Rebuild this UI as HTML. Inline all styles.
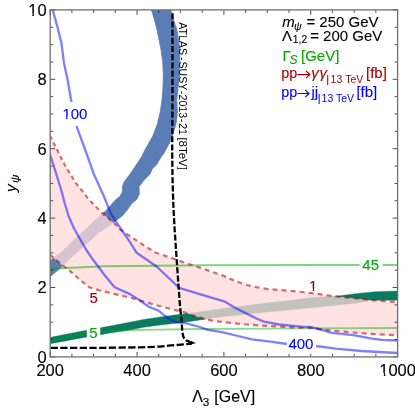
<!DOCTYPE html>
<html><head><meta charset="utf-8"><title>plot</title>
<style>
html,body{margin:0;padding:0;background:#fff;}
svg{display:block;will-change:transform;font-family:"Liberation Sans",sans-serif;}
text{stroke:currentColor;stroke-width:0.12px;}
</style></head><body>
<svg width="415" height="408" viewBox="0 0 415 408">
<rect width="415" height="408" fill="#fff"/>
<defs><clipPath id="c"><rect x="50.2" y="9.9" width="347.40000000000003" height="347.0"/></clipPath></defs>
<g clip-path="url(#c)">
<polygon points="151.3,9.6 154.1,18.4 157.2,30.6 159.6,42.9 161.1,50.0 162.7,62.3 163.3,74.5 163.0,86.8 162.0,100.0 160.2,112.3 157.2,124.5 152.8,136.0 144.9,150.0 141.2,157.4 135.3,166.2 129.4,175.0 124.3,181.6 122.4,186.8 122.4,191.9 119.9,196.3 114.7,200.7 106.9,209.8 97.0,218.6 85.3,229.4 73.5,240.2 61.8,252.0 50.0,260.8 50.0,276.8 53.9,273.5 59.8,268.5 69.6,258.8 79.4,250.0 89.2,241.2 99.0,232.4 110.8,224.5 122.5,215.7 127.2,210.0 131.6,203.7 136.8,199.3 139.4,194.1 139.0,186.8 144.1,180.1 150.0,174.3 152.2,169.1 156.6,164.7 160.0,158.8 164.0,153.1 170.8,140.5 173.7,131.9 176.4,122.0 177.4,112.3 176.8,100.0 178.2,86.8 179.5,74.5 179.8,62.0 179.8,50.0 178.6,40.4 176.8,29.4 174.3,22.0 172.1,14.7 170.6,9.6" fill="#5b7db5" stroke="#5b7db5" stroke-width="0.8" stroke-linejoin="round"/>
<polygon points="50.0,338.0 52.0,337.0 86.6,330.2 100.5,327.7 110.0,326.1 126.9,322.8 143.7,319.4 160.6,316.9 180.0,314.3 191.7,313.0 206.1,310.9 225.0,308.2 246.7,305.6 268.4,302.8 290.0,300.6 312.0,297.6 338.2,296.0 353.4,293.9 375.0,291.7 397.6,291.0 397.6,300.2 383.4,300.2 373.0,300.5 366.0,301.5 354.5,303.2 340.0,304.8 328.9,306.0 312.0,307.8 300.0,308.8 290.0,309.9 268.4,311.8 246.7,314.3 225.0,316.4 213.4,317.8 204.7,319.3 193.1,321.0 180.0,322.8 160.6,325.0 143.7,327.3 126.9,330.4 110.0,332.9 100.5,334.7 86.6,337.0 52.0,343.4 50.0,343.8" fill="#0a7b60" stroke="#0a7b60" stroke-width="0.4" stroke-linejoin="round"/>
<polygon points="50.0,135.8 55.7,147.0 64.5,164.5 75.2,182.2 83.5,192.5 89.2,200.0 102.9,213.7 116.7,225.5 120.0,229.4 131.8,237.3 143.5,245.1 155.3,252.5 171.0,257.8 184.7,262.7 200.0,267.6 208.0,270.4 223.0,275.6 235.8,281.2 246.7,285.0 257.5,287.4 268.4,289.1 290.0,290.8 310.0,292.8 320.8,294.3 331.7,296.0 342.5,297.1 353.4,298.2 375.0,300.4 397.6,302.2 397.6,335.2 375.0,334.2 353.4,332.5 331.7,330.7 312.0,328.0 290.0,327.3 268.4,326.0 246.7,324.5 225.0,322.3 213.4,321.0 204.7,318.8 194.6,316.0 184.5,312.3 172.9,309.5 158.5,305.8 145.0,302.0 130.0,297.5 114.7,294.1 99.0,290.2 89.2,287.3 79.4,279.4 69.6,270.6 61.8,264.7 50.0,254.9" fill="#ffdada" fill-opacity="0.755"/>
<path d="M50.0 340.7 L70.0 336.7 L86.6 333.6 L100.5 331.6 L115.0 330.5 L130.0 330.0 L145.0 329.9 L158.5 329.6 L200.0 329.0 L311.0 328.3 L397.6 328.0" fill="none" stroke="#00aa00" stroke-opacity="0.45" stroke-width="1.8"/>
<path d="M50.0 268.7 L104.0 266.2 L208.0 265.2 L311.0 264.9 L359.9 264.9 M382.4 264.9 L397.5 264.9" fill="none" stroke="#00aa00" stroke-opacity="0.5" stroke-width="2"/>
<path d="M50.00 135.80L51.89 139.51M53.44 142.56L55.33 146.27M56.87 149.32L58.74 153.04M60.27 156.08L62.14 159.80M63.67 162.85L64.50 164.50L65.71 166.51M67.50 169.47L69.68 173.08M71.47 176.03L73.65 179.64M75.50 182.57L78.22 185.94M80.44 188.70L83.15 192.07M85.30 194.87L87.90 198.30M90.21 201.01L93.34 204.14M95.90 206.70L99.03 209.83M101.59 212.39L102.90 213.70L104.89 215.40M107.70 217.80L111.12 220.73M113.92 223.12L116.70 225.50L117.23 226.12M119.53 228.84L120.00 229.40L123.20 231.54M126.34 233.65L130.18 236.22M133.33 238.32L137.18 240.88M140.33 242.99L143.50 245.10L144.19 245.53M147.42 247.56L151.36 250.03M154.59 252.05L155.30 252.50L159.08 253.77M162.85 255.05L167.46 256.61M171.24 257.89L175.81 259.52M179.55 260.86L184.12 262.49M187.91 263.73L192.56 265.22M196.36 266.44L200.00 267.60L201.00 267.95M204.75 269.26L208.00 270.40L209.34 270.86M213.10 272.17L217.69 273.76M221.45 275.06L223.00 275.60L225.91 276.87M229.51 278.45L233.90 280.37M237.57 281.82L242.16 283.42M245.92 284.73L246.70 285.00L250.70 285.89M254.65 286.77L257.50 287.40L259.50 287.71M263.53 288.34L268.40 289.10L268.44 289.10M272.52 289.42L277.49 289.82M281.57 290.14L286.55 290.53M290.63 290.86L295.59 291.36M299.66 291.77L304.62 292.26M308.69 292.67L310.00 292.80L313.62 293.30M317.66 293.86L320.80 294.30L322.58 294.58M326.61 295.21L331.52 295.97M335.58 296.40L340.54 296.90M344.61 297.31L349.57 297.81M353.64 298.22L358.60 298.73M362.67 299.14L367.63 299.65M371.69 300.06L375.00 300.40L376.66 300.53M380.74 300.86L385.71 301.25M389.79 301.58L394.77 301.97" fill="none" stroke="#aa0000" stroke-opacity="0.55" stroke-width="2.2" stroke-linejoin="round"/>
<path d="M50.00 254.90L53.47 257.78M56.32 260.15L59.79 263.03M62.68 265.37L66.32 268.12M69.30 270.37L69.60 270.60L72.66 273.35M75.39 275.80L78.72 278.79M81.57 281.15L85.10 283.99M87.99 286.32L89.20 287.30L92.28 288.21M96.13 289.35L99.00 290.20L100.85 290.66M104.77 291.63L109.54 292.82M113.46 293.79L114.70 294.10L118.27 294.89M122.22 295.77L127.03 296.84M130.96 297.79L135.64 299.19M139.48 300.34L144.16 301.75M148.03 302.85L152.74 304.18M156.61 305.27L158.50 305.80L161.36 306.53M165.26 307.54L170.02 308.76M173.93 309.75L178.72 310.91M182.65 311.85L184.50 312.30L187.29 313.32M191.02 314.69L194.60 316.00L195.60 316.28M199.48 317.35L204.20 318.66M208.11 319.66L212.88 320.87M216.92 321.39L221.87 321.95M225.93 322.39L230.89 322.90M234.96 323.31L239.92 323.81M243.99 324.23L246.70 324.50L248.96 324.66M253.04 324.94L258.02 325.28M262.11 325.57L267.09 325.91M271.18 326.17L276.16 326.47M280.25 326.71L285.24 327.01M289.33 327.26L290.00 327.30L294.32 327.44M298.42 327.57L303.42 327.73M307.51 327.86L312.00 328.00L312.50 328.07M316.54 328.62L321.47 329.30M325.51 329.85L330.44 330.53M334.51 330.93L339.48 331.35M343.56 331.68L348.53 332.10M352.61 332.43L353.40 332.50L357.59 332.83M361.67 333.15L366.64 333.54M370.72 333.86L375.00 334.20L375.70 334.23M379.80 334.41L384.79 334.63M388.88 334.81L393.87 335.04" fill="none" stroke="#aa0000" stroke-opacity="0.55" stroke-width="2.2" stroke-linejoin="round"/>
<path d="M52.6 9.5 L57.6 27.6 L61.4 42.6 L63.9 62.7 L67.7 80.2 L71.4 102.0 M76.4 125.8 L86.0 152.0 L94.0 174.5 L104.0 196.5 L110.8 213.7 L118.6 225.5 L130.0 242.2 L136.6 252.8 L156.6 266.5 L179.2 287.8 L208.0 296.7 L225.0 301.7 L235.8 308.2 L246.7 313.6 L257.5 319.0 L264.0 321.6 L279.2 324.5 L300.9 326.6 L310.0 326.9 L320.8 329.7 L331.7 332.9 L353.4 335.1 L370.7 338.3 L381.6 339.8 L397.6 340.5 M50.0 154.6 L53.0 163.5 L56.4 174.5 L61.8 192.0 L64.9 204.0 L68.7 216.5 L74.3 229.0 L86.3 250.0 L93.1 259.8 L104.9 275.5 L114.7 287.3 L130.0 294.1 L139.3 300.0 L148.9 306.7 L158.5 310.6 L168.2 318.3 L175.9 322.2 L185.5 323.1 L200.0 327.0 L208.0 329.8 L223.0 332.3 L238.0 336.0 L251.9 339.3 L270.7 341.6 L287.0 344.0 M316.0 346.0 L336.0 348.6 L361.0 351.0 L397.5 353.0" fill="none" stroke="#0000ff" stroke-opacity="0.5" stroke-width="2.3" stroke-linejoin="round"/>
<rect x="86.8" y="322" width="13.5" height="20" fill="#fff"/>
<path d="M172.50 13.20L172.50 19.29M172.50 21.40L172.50 27.49M172.50 29.60L172.50 35.69M172.50 37.80L172.50 43.88M172.50 46.00L172.50 52.08M172.50 54.20L172.50 60.28M172.50 62.40L172.50 68.48M172.50 70.60L172.50 76.68M172.50 78.80L172.50 84.88M172.50 87.00L172.50 93.08M172.50 95.19L172.50 101.28M172.49 103.39L172.46 109.48M172.44 111.59L172.41 117.68M172.39 119.79L172.36 125.88M172.34 127.99L172.31 134.08M172.29 136.19L172.26 142.28M172.25 144.39L172.21 150.48M172.21 152.59L172.28 158.68M172.31 160.79L172.38 166.88M172.40 168.99L172.48 175.07M172.51 177.19L172.69 183.27M172.75 185.38L172.93 191.47M172.99 193.58L173.17 199.67M173.23 201.78L173.30 204.00L173.50 207.86M173.61 209.97L173.93 216.05M174.04 218.16L174.35 224.24M174.46 226.35L174.60 229.00L174.83 232.43M174.98 234.54L175.39 240.62M175.53 242.73L175.95 248.80M176.09 250.91L176.30 254.00L176.50 256.99M176.65 259.10L177.06 265.18M177.20 267.29L177.62 273.36M177.76 275.47L178.00 279.00L178.19 281.55M178.34 283.66L178.79 289.73M178.95 291.84L179.40 297.91M179.56 300.02L180.00 306.00L180.01 306.10M180.23 308.20L180.88 314.26M181.11 316.37L181.60 321.00L181.69 322.43M181.83 324.54L182.22 330.62M182.48 332.72L183.50 337.30L184.44 338.48M185.84 340.23L185.90 340.30L189.50 341.90L192.41 342.61" fill="none" stroke="#000" stroke-width="2.3" stroke-linejoin="round"/>
<path d="M50.6 347.8 L104.0 347.8 L141.6 347.3 L160.0 346.6 L168.4 345.7 L178.0 344.9 L192.0 343.6" fill="none" stroke="#000" stroke-width="2.3" stroke-dasharray="7.3 2.4" stroke-linejoin="round"/>
<polygon points="188.3,340.4 196.2,343 188.3,345" fill="#000"/>
</g>
<path d="M50.20 356.9v-5M50.20 9.9v5M71.91 356.9v-3M71.91 9.9v3M93.62 356.9v-3M93.62 9.9v3M115.34 356.9v-3M115.34 9.9v3M137.05 356.9v-5M137.05 9.9v5M158.76 356.9v-3M158.76 9.9v3M180.48 356.9v-3M180.48 9.9v3M202.19 356.9v-3M202.19 9.9v3M223.90 356.9v-5M223.90 9.9v5M245.61 356.9v-3M245.61 9.9v3M267.33 356.9v-3M267.33 9.9v3M289.04 356.9v-3M289.04 9.9v3M310.75 356.9v-5M310.75 9.9v5M332.46 356.9v-3M332.46 9.9v3M354.18 356.9v-3M354.18 9.9v3M375.89 356.9v-3M375.89 9.9v3M397.60 356.9v-5M397.60 9.9v5M50.2 356.90h5M397.6 356.90h-5M50.2 339.55h3M397.6 339.55h-3M50.2 322.20h3M397.6 322.20h-3M50.2 304.85h3M397.6 304.85h-3M50.2 287.50h5M397.6 287.50h-5M50.2 270.15h3M397.6 270.15h-3M50.2 252.80h3M397.6 252.80h-3M50.2 235.45h3M397.6 235.45h-3M50.2 218.10h5M397.6 218.10h-5M50.2 200.75h3M397.6 200.75h-3M50.2 183.40h3M397.6 183.40h-3M50.2 166.05h3M397.6 166.05h-3M50.2 148.70h5M397.6 148.70h-5M50.2 131.35h3M397.6 131.35h-3M50.2 114.00h3M397.6 114.00h-3M50.2 96.65h3M397.6 96.65h-3M50.2 79.30h5M397.6 79.30h-5M50.2 61.95h3M397.6 61.95h-3M50.2 44.60h3M397.6 44.60h-3M50.2 27.25h3M397.6 27.25h-3M50.2 9.90h5M397.6 9.90h-5" stroke="#222" stroke-width="0.8" fill="none"/>
<rect x="50.2" y="9.9" width="347.40000000000003" height="347.0" fill="none" stroke="#707070" stroke-width="1.3"/>
<g font-size="16.5" fill="#000" color="#000"><text x="50.2" y="375.5" text-anchor="middle">200</text><text x="137.1" y="375.5" text-anchor="middle">400</text><text x="223.9" y="375.5" text-anchor="middle">600</text><text x="310.8" y="375.5" text-anchor="middle">800</text><text x="397.6" y="375.5" text-anchor="middle">1000</text><text x="46.6" y="362.7" text-anchor="end">0</text><text x="46.6" y="293.3" text-anchor="end">2</text><text x="46.6" y="223.9" text-anchor="end">4</text><text x="46.6" y="154.5" text-anchor="end">6</text><text x="46.6" y="85.1" text-anchor="end">8</text><text x="46.6" y="15.7" text-anchor="end">10</text></g>
<text transform="translate(179.3,0) rotate(90)" font-size="10.6" fill="#000" style="stroke:none"><tspan x="22.2">ATLAS</tspan><tspan x="57.1">-</tspan><tspan x="61.5">SUSY</tspan><tspan x="90.8">-</tspan><tspan x="94.5">2013</tspan><tspan x="118.8">-</tspan><tspan x="123.2">21</tspan><tspan x="137.4" textLength="32.6" lengthAdjust="spacingAndGlyphs">[8TeV]</tspan></text>
<g fill="#fff"><rect x="60.8" y="103.3" width="28.6" height="21.2"/><rect x="286.9" y="333" width="29.2" height="20.7"/><rect x="359.8" y="255" width="22.6" height="20.6"/></g>
<g font-size="15">
<text x="62.4" y="119.3" fill="#0000ff" color="#0000ff">100</text>
<text x="288.4" y="348.9" fill="#0000ff" color="#0000ff">400</text>
<text x="362.3" y="270.3" fill="#00aa00" color="#00aa00">45</text>
<text x="89.3" y="338.3" fill="#00aa00" color="#00aa00">5</text>
<text x="309" y="290.7" fill="#aa0000" color="#aa0000">1</text>
<text x="89.5" y="302.7" fill="#aa0000" color="#aa0000">5</text>
</g>
<g fill="#fff"><rect x="309.15" y="288.45" width="3.59" height="3.25"/><rect x="314.11" y="288.45" width="2.85" height="3.25"/><rect x="62.55" y="117.05" width="3.59" height="3.25"/><rect x="67.51" y="117.05" width="2.85" height="3.25"/><rect x="28.41" y="13.33" width="3.95" height="3.37"/><rect x="33.87" y="13.33" width="3.14" height="3.37"/><rect x="379.91" y="373.13" width="3.95" height="3.37"/><rect x="385.37" y="373.13" width="3.14" height="3.37"/></g>
<g font-size="15">
<text y="26.7" fill="#000" color="#000"><tspan x="282.3" font-style="italic">m</tspan><tspan x="294" y="29.6" font-style="italic" font-size="10.5">ψ</tspan><tspan x="306.4" y="26.7">= 250 GeV</tspan></text>
<text y="40.8" fill="#000" color="#000"><tspan x="282">Λ</tspan><tspan x="292.8" y="42.9" font-size="10.3">1,2</tspan><tspan x="310.2" y="40.8">= 200 GeV</tspan></text>
<text y="61.4" fill="#00aa00" color="#00aa00"><tspan x="282.5">Γ</tspan><tspan x="289.6" y="63.8" font-style="italic" font-size="12">S</tspan><tspan x="301" y="61.4">[GeV]</tspan></text>
<text y="78.2" fill="#aa0000" color="#aa0000"><tspan x="281.3" textLength="16" lengthAdjust="spacingAndGlyphs">pp</tspan><tspan x="311.3" font-style="italic" letter-spacing="0.8">γγ</tspan><tspan x="326.3" y="82.5" font-size="10.9">|</tspan><tspan x="330.6" y="82.5" font-size="10.5" style="stroke:none">13 TeV</tspan><tspan x="366" y="78.2">[fb]</tspan></text>
<path d="M297.4 74.6H309.4M306 71L309.8 74.6L306 78.2" fill="none" stroke="#aa0000" stroke-width="1.15"/>
<text y="97.1" fill="#0000ff" color="#0000ff"><tspan x="281.3" textLength="16" lengthAdjust="spacingAndGlyphs">pp</tspan><tspan x="311.4">jj</tspan><tspan x="317.7" y="101.6" font-size="10.9">|</tspan><tspan x="321.6" y="101.6" font-size="10.5" style="stroke:none">13 TeV</tspan><tspan x="356.4" y="97.1">[fb]</tspan></text>
<path d="M297.4 93.5H308.6M305.2 89.9L309 93.5L305.2 97.1" fill="none" stroke="#0000ff" stroke-width="1.15"/>
</g>
<text transform="translate(16.1,192) rotate(-90)" font-size="15.3" fill="#000" color="#000"><tspan font-style="italic">y</tspan><tspan x="9" y="3" font-style="italic" font-size="11.5">ψ</tspan></text>
<text y="402" font-size="16" fill="#000" color="#000"><tspan x="192.2">Λ</tspan><tspan x="202.8" y="405.5" font-size="11.7">3</tspan><tspan x="214.3" y="402">[GeV]</tspan></text>
</svg>
</body></html>
